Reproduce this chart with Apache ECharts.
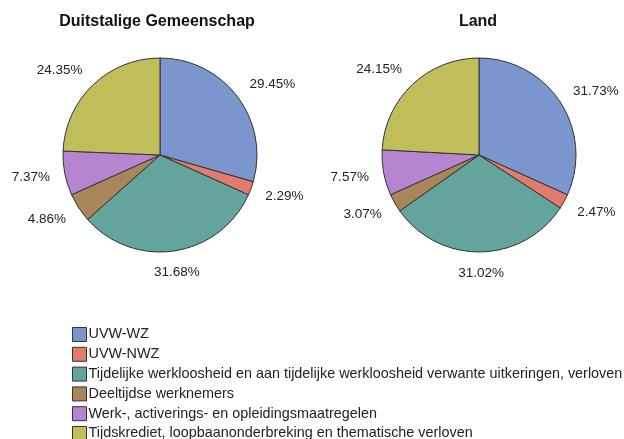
<!DOCTYPE html>
<html><head><meta charset="utf-8">
<script src="https://cdn.jsdelivr.net/npm/echarts@6/dist/echarts.min.js"></script>
<style>html,body{margin:0;padding:0;background:#fff}#c{width:624px;height:439px}</style>
</head><body><div id="c"></div>
<script>
const categories = [
  "UVW-WZ",
  "UVW-NWZ",
  "Tijdelijke werkloosheid en aan tijdelijke werkloosheid verwante uitkeringen, verloven",
  "Deeltijdse werknemers",
  "Werk-, activerings- en opleidingsmaatregelen",
  "Tijdskrediet, loopbaanonderbreking en thematische verloven"
];
const titles = ["Duitstalige Gemeenschap", "Land"];
const valuesDG = [29.45, 2.29, 31.68, 4.86, 7.37, 24.35];
const valuesLand = [31.73, 2.47, 31.02, 3.07, 7.57, 24.15];
const colors = ["#7b96cc", "#e07b6d", "#63a59d", "#a8855a", "#b685cf", "#bfbe5b"];

const FONT = 'Liberation Sans, Arial, sans-serif';
const chart = echarts.init(document.getElementById('c'), null, {renderer: 'canvas'});

// place each label box around the anchor point depending on its angle
function layoutLabel(params) {
  const pts = params.labelLinePoints;
  if (!pts) return {};
  const p0 = pts[0], p1 = pts[1];
  const dx = p1[0] - p0[0], dy = p1[1] - p0[1];
  const len = Math.hypot(dx, dy) || 1;
  const s = dx / len, c = -dy / len; // sin, cos of angle from top
  const w = params.labelRect.width, h = params.labelRect.height;
  let hj;
  if (Math.abs(s) < 0.3) hj = 0.5; else hj = s > 0 ? 0 : 1;
  const vj = (1 + c) / 2 * 0.85 + 0.05;
  return {
    x: p1[0] - hj * w,
    y: p1[1] - vj * h,
    align: 'left',
    verticalAlign: 'top'
  };
}

function pieSeries(name, vals, cx) {
  return {
    type: 'pie', name: name, center: [cx, 155], radius: 97,
    startAngle: 90, clockwise: true, avoidLabelOverlap: false,
    animation: false,
    itemStyle: {borderColor: '#333', borderWidth: 1},
    emphasis: {disabled: true},
    label: {show: true, position: 'outside', fontSize: 13.5, color: '#222',
      fontFamily: FONT, formatter: p => p.value.toFixed(2) + '%'},
    labelLine: {show: true, length: 15, length2: 0, lineStyle: {opacity: 0, width: 0}},
    labelLayout: layoutLabel,
    data: categories.map((c, i) => ({name: c, value: vals[i]}))
  };
}
chart.setOption({
  color: colors,
  animation: false,
  title: [
    {text: titles[0], left: 152, top: 9, textAlign: 'center',
     textStyle: {fontSize: 16, fontWeight: 'bold', color: '#111', fontFamily: FONT}},
    {text: titles[1], left: 473, top: 9, textAlign: 'center',
     textStyle: {fontSize: 16, fontWeight: 'bold', color: '#111', fontFamily: FONT}}
  ],
  legend: {
    orient: 'vertical', left: 72, top: 327, height: 200, itemWidth: 14, itemHeight: 14, itemGap: 4.8,
    icon: 'rect', selectedMode: false, padding: 0,
    itemStyle: {borderColor: '#333', borderWidth: 1},
    textStyle: {fontSize: 14.4, lineHeight: 14, color: '#222', padding: [0, 0, 0, -3], fontFamily: FONT},
    data: categories
  },
  series: [pieSeries(titles[0], valuesDG, 160), pieSeries(titles[1], valuesLand, 479)]
});
</script></body></html>
